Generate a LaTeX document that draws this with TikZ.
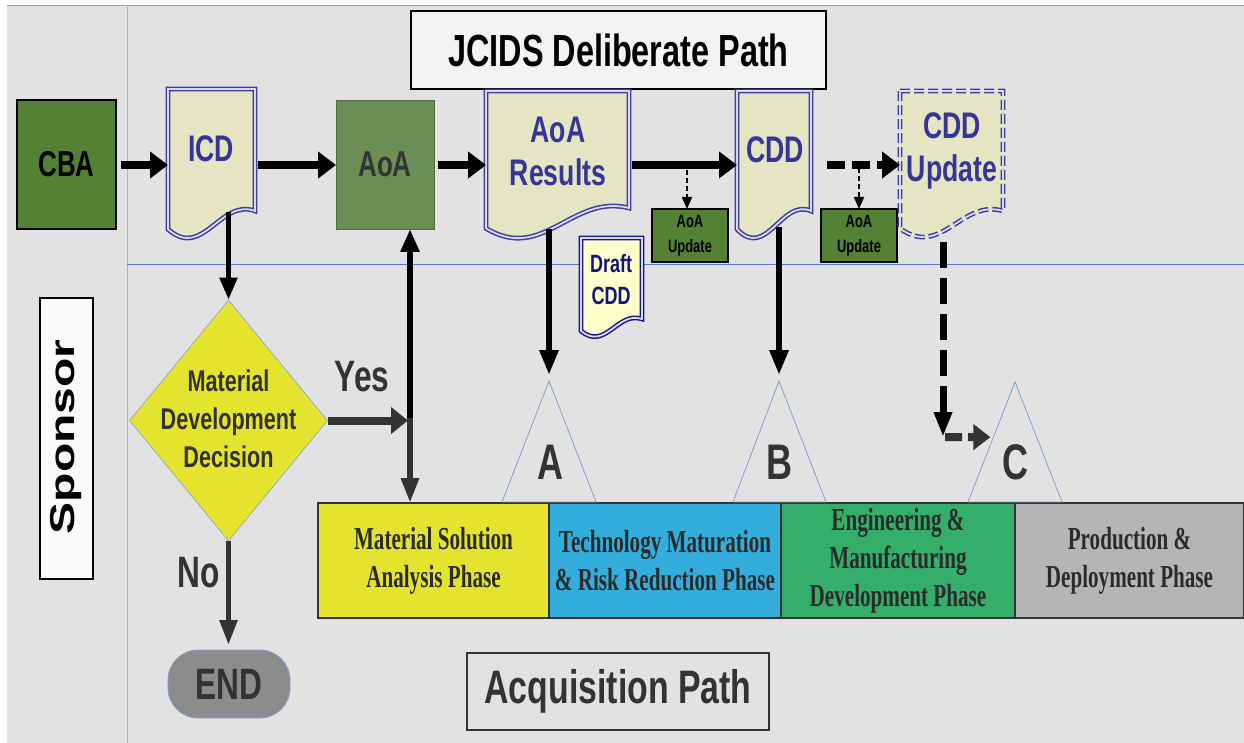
\documentclass[tikz,border=0pt]{standalone}
\usepackage{fontspec}
\setmainfont{Liberation Sans}
\newfontfamily\narrowsans[FakeStretch=0.72]{Liberation Sans}
\newfontfamily\narrowserif[FakeStretch=0.66]{Liberation Serif}
\usetikzlibrary{arrows.meta,shapes.geometric,calc}

\definecolor{bg}{HTML}{E2E2E2}
\definecolor{titlefill}{HTML}{F3F3F3}
\definecolor{cbagreen}{HTML}{548235}
\definecolor{aoagreen}{HTML}{6B8E55}
\definecolor{docfill}{HTML}{E5E5C3}
\definecolor{docline}{HTML}{3E3E9E}
\definecolor{doctext}{HTML}{35359A}
\definecolor{draftfill}{HTML}{FFFFCC}
\definecolor{draftline}{HTML}{1A1A85}
\definecolor{drafttext}{HTML}{14147A}
\definecolor{mddyellow}{HTML}{E4E42F}
\definecolor{tmrrblue}{HTML}{33ADDB}
\definecolor{emdgreen}{HTML}{33AF6B}
\definecolor{pdgray}{HTML}{B5B5B5}
\definecolor{endgray}{HTML}{8C8C8C}
\definecolor{ink}{HTML}{333333}
\definecolor{phaseink}{HTML}{2B2B2B}
\definecolor{laneblue}{HTML}{4A7BD0}
\definecolor{lanegray}{HTML}{A7B6D4}
\definecolor{triline}{HTML}{7FA0D0}

% document symbol: flat top, wavy bottom; #1 node, #2 path style, #3 drop of right end
\newcommand\docoutline[3]{%
  \path[#2] let \p1=(#1.north west), \p2=(#1.south east) in
    (\x1,\y1) -- (\x2,\y1) -- (\x2,{\y2+#3pt})
    .. controls ({\x1+0.6*(\x2-\x1)},{\y2+1.5*#3pt}) and ({\x1+0.4*(\x2-\x1)},{\y2-0.9*#3pt})
    .. (\x1,{\y2+0.3*#3pt}) -- cycle;}

\begin{document}
\begin{tikzpicture}[x=1pt,y=-1pt,
  plainbox/.style={rectangle,inner sep=0pt,outer sep=0pt,align=center},
  docpath/.style={fill=docfill,draw=docline,line width=1.5pt,double=white!80!docline,double distance=1.8pt},
  doctext/.style={inner sep=0pt,align=center,text=doctext,font=\narrowsans\bfseries\fontsize{37}{43}\selectfont},
  smallbox/.style={plainbox,draw=black,line width=1.1pt,fill=cbagreen,minimum width=76pt,minimum height=53pt,
    font=\narrowsans\bfseries\fontsize{18}{25}\selectfont},
  phase/.style={plainbox,draw=ink,line width=2pt,minimum height=115pt,text=phaseink,
    font=\narrowserif\bfseries\fontsize{32}{38}\selectfont},
  milestone/.style={draw=triline,line width=0.8pt},
  mslabel/.style={inner sep=0pt,text=ink,font=\narrowsans\bfseries\fontsize{50}{50}\selectfont},
  bigtext/.style={inner sep=0pt,text=ink,font=\narrowsans\bfseries\fontsize{44}{44}\selectfont},
  flowarrow/.style={line width=8pt,-{Triangle[length=18pt,width=26pt]}},
  flowdashed/.style={flowarrow,dash pattern=on 18pt off 7pt},
  tinyarrow/.style={line width=1.8pt,dash pattern=on 5pt off 3pt,-{Triangle[length=12pt,width=10pt]}},
  droparrow/.style={line width=6pt,-{Triangle[length=25pt,width=18pt]}}
]
\useasboundingbox (0,0) rectangle (1244,743);

% lanes
\fill[white] (0,0) rectangle (1244,743);
\fill[bg] (7,5) rectangle (1244,743);
\draw[laneblue!70,line width=0.8pt] (7,5.5) -- (1244,5.5);
\draw[lanegray,line width=1pt] (127,5) -- (127,743);
\draw[laneblue,line width=1pt] (127,265) -- (1244,265);

% lane titles
\node[plainbox,draw=black,line width=1.8pt,fill=titlefill,minimum width=415pt,minimum height=78pt,
  font=\narrowsans\bfseries\fontsize{45}{50}\selectfont] (jcids) at (618.5,50) {JCIDS Deliberate Path};
\node[plainbox,draw=black,line width=1.2pt,fill=white!60!titlefill,minimum width=53pt,minimum height=281pt] (spons) at (66.5,438.5) {};
\node[rotate=90,inner sep=0pt,font=\bfseries\fontsize{48}{48}\selectfont] (sponst) at (66,437) {\scalebox{1}[0.72]{Sponsor}};
\node[plainbox,draw=ink,line width=1.5pt,fill=bg,minimum width=302pt,minimum height=77pt,text=ink,
  font=\narrowsans\bfseries\fontsize{47}{50}\selectfont] (acq) at (618,691.5) {Acquisition Path};

% JCIDS boxes
\node[plainbox,draw=black,line width=1.2pt,fill=cbagreen,minimum width=99pt,minimum height=129pt,
  font=\narrowsans\bfseries\fontsize{36}{40}\selectfont] (cba) at (66.5,164.5) {CBA};
\node[plainbox,draw=aoagreen!75!black,line width=0.8pt,fill=aoagreen,minimum width=98pt,minimum height=129pt,text=ink,
  font=\narrowsans\bfseries\fontsize{36}{40}\selectfont] (aoa) at (385,164.5) {AoA};
\node[smallbox] (aoau1) at (690,235.5) {AoA\\Update};
\node[smallbox] (aoau2) at (859,235.5) {AoA\\Update};

% documents
\node[plainbox,minimum width=87pt,minimum height=148pt] (icd) at (211.5,163) {};
\docoutline{icd}{docpath}{26}
\node[doctext] (icdt) at (211,149) {ICD};

\node[plainbox,minimum width=143pt,minimum height=146pt] (aoar) at (557.5,164) {};
\docoutline{aoar}{docpath}{29}
\node[doctext] (aoart) at (558,151) {AoA\\Results};

\node[plainbox,minimum width=74pt,minimum height=146pt] (cdd) at (774,164) {};
\docoutline{cdd}{docpath}{26}
\node[doctext] (cddt) at (775,150) {CDD};

\node[plainbox,minimum width=103pt,minimum height=145pt] (cddu) at (951.5,163.5) {};
\docoutline{cddu}{docpath,dash pattern=on 10pt off 4pt}{25}
\node[doctext] (cddut) at (952,151) {CDD\\Update};

\node[plainbox,minimum width=61pt,minimum height=98pt] (draft) at (611.5,287) {};
\docoutline{draft}{docpath,fill=draftfill,draw=draftline}{17}
\node[doctext,text=drafttext,font=\narrowsans\bfseries\fontsize{25}{32}\selectfont] (draftt) at (611,280) {Draft\\CDD};

% decision and end
\node[diamond,fill=mddyellow,draw=triline,line width=0.6pt,minimum width=198pt,minimum height=241pt,inner sep=0pt] (mdd) at (228.5,420.5) {};
\node[inner sep=0pt,align=center,text=ink,font=\narrowsans\bfseries\fontsize{30}{38}\selectfont] (mddt) at (228.5,419) {Material\\Development\\Decision};
\node[plainbox,draw=triline,line width=0.8pt,fill=endgray,rounded corners=30pt,minimum width=122pt,minimum height=68pt,
  text=ink,font=\narrowsans\bfseries\fontsize{44}{44}\selectfont] (endn) at (229,684) {END};

% acquisition phases
\node[phase,fill=mddyellow,minimum width=231pt] (msa) at (433.5,560.5) {Material Solution\\Analysis Phase};
\node[phase,fill=tmrrblue,minimum width=232pt] (tmrr) at (665,560.5) {Technology Maturation\\\& Risk Reduction Phase};
\node[phase,fill=emdgreen,minimum width=234pt] (emd) at (898,560.5) {Engineering \&\\Manufacturing\\Development Phase};
\node[phase,fill=pdgray,minimum width=229pt] (pd) at (1129.5,560.5) {Production \&\\Deployment Phase};

% milestones
\coordinate (triA) at (549,381);
\coordinate (triB) at (779,381);
\coordinate (triC) at (1015,382);
\draw[milestone] (triA) -- (502,502) -- (596,502) -- cycle;
\draw[milestone] (triB) -- (733,502) -- (826,502) -- cycle;
\draw[milestone] (triC) -- (968,502) -- (1062,502) -- cycle;
\node[mslabel] (letA) at (550,462) {A};
\node[mslabel] (letB) at (779,462) {B};
\node[mslabel] (letC) at (1015,462) {C};
\coordinate (triCin) at ($(triC)!0.46!(968,502)$);

% JCIDS flow
\coordinate (row) at (0,165);
\draw[flowarrow,shorten <=5pt] (cba.east |- row) -- (icd.west |- row);
\draw[flowarrow,shorten <=3pt] (icd.east |- row) -- (aoa.west |- row);
\draw[flowarrow,shorten <=4pt] (aoa.east |- row) -- (aoar.west |- row);
\draw[flowarrow,shorten <=3pt] (aoar.east |- row) -- (cdd.west |- row);
\draw[flowdashed,shorten <=16pt] (cdd.east |- row) -- (cddu.west |- row);
\draw[tinyarrow,shorten <=5pt] ([xshift=-3pt]aoau1.north |- row) -- ([xshift=-3pt]aoau1.north);
\draw[tinyarrow,shorten <=3pt] (aoau2.north |- row) -- (aoau2.north);

% drops to decision and milestones
\draw[line width=5pt,-{Triangle[length=22pt,width=17pt]}] ($(mdd.north |- icd.south)+(0,-25)$) -- (mdd.north);
\draw[droparrow,shorten >=6pt] ($(triA |- aoar.south)+(0,-8)$) -- (triA);
\draw[droparrow,shorten >=6pt] ($(triB |- cdd.south)+(0,-10)$) -- (triB);
\coordinate (turnC) at (943,437);
\draw[line width=7pt,dash pattern=on 26pt off 10pt,-{Triangle[length=25pt,width=17pt]}] ($(turnC |- cddu.south)+(0,6)$) -- (turnC);
\draw[ink,line width=8pt,dash pattern=on 17pt off 6pt,-{Triangle[length=17pt,width=25pt]},shorten <=2pt,shorten >=3pt] (turnC) -- (triCin);

% decision outcomes
\coordinate (j) at (410,420.5);
\draw[ink,line width=8pt,-{Triangle[length=17pt,width=26pt]},shorten >=2pt] (mdd.east) -- (j);
\node[bigtext] (yes) at (362,377) {Yes};
\draw[line width=6pt,-{Triangle[length=23pt,width=18pt]}] (j) -- (j |- aoa.south);
\draw[ink,line width=6pt,-{Triangle[length=25pt,width=17pt]}] ([yshift=3pt]j) -- (j |- msa.north);
\draw[ink,line width=5.5pt,-{Triangle[length=25pt,width=17pt]},shorten >=5pt] (mdd.south) -- (mdd.south |- endn.north);
\node[bigtext] (no) at (199,573) {No};
\end{tikzpicture}
\end{document}
